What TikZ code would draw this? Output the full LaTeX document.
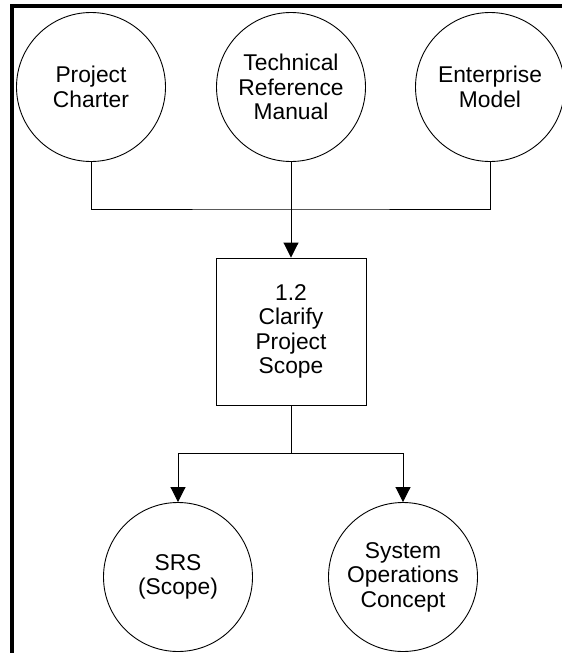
\documentclass[tikz,border=0pt]{standalone}
\usepackage{fontspec}
\setmainfont{Liberation Sans}
\usetikzlibrary{arrows.meta}
\begin{document}
\begin{tikzpicture}[x=1pt,y=-1pt,
  store/.style={circle,draw,line width=0.9pt,minimum size=149pt,inner sep=0pt,
    align=center,font=\fontsize{22.8}{24.5}\selectfont},
  process/.style={rectangle,draw,line width=0.9pt,minimum width=150pt,
    minimum height=147pt,inner sep=0pt,align=center,font=\fontsize{22.8}{24.5}\selectfont},
  link/.style={line width=0.9pt},
  flow/.style={line width=0.9pt,-{Triangle[width=15pt,length=15pt]}}]
\useasboundingbox (0,0) rectangle (562,653);
\clip (0,0) rectangle (562,653);
% frame
\draw[line width=4pt] (11.5,653) -- (11.5,5.5) -- (562,5.5);
% inputs
\node[store] (charter) at (91,87) {Project\\Charter};
\node[store] (trm) at (291,87) {Technical\\Reference\\Manual};
\node[store] (ent) at (490,87) {Enterprise\\Model};
% process
\node[process] (scope) at (291,331.5) {1.2\\Clarify\\Project\\Scope};
% outputs
\node[store] (srs) at (178,577) {SRS\\(Scope)};
\node[store] (ops) at (403,577) {System\\Operations\\Concept};
% connectors
\coordinate (join) at (291,209);
\coordinate (split) at (291,453);
\draw[link] (charter.south) |- (join) -| (ent.south);
\draw[flow] (trm.south) -- (scope.north);
\draw[link] (scope.south) -- (split);
\draw[flow] (split) -| (srs.north);
\draw[flow] (split) -| (ops.north);
\end{tikzpicture}
\end{document}
